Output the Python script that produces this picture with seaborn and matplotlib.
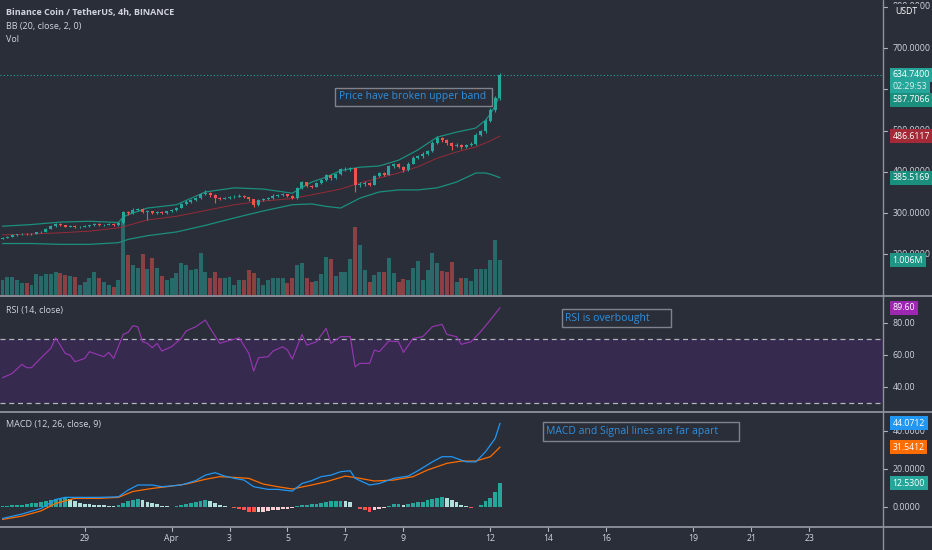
import matplotlib
matplotlib.use("Agg")
import matplotlib.pyplot as plt
import matplotlib.transforms as mtransforms
from matplotlib.lines import Line2D
from matplotlib.patches import Rectangle
import numpy as np
import pandas as pd
import seaborn as sns

# BNB/USDT 4h candles (26 Mar -> 12 Apr 08:00)
opens = [238, 240, 242, 246, 248, 250, 248, 250, 253, 255,
         262, 268, 273, 270, 267, 268, 265, 266, 268, 270,
         273, 270, 271, 273, 270, 276, 302, 299, 308, 309,
         302, 304, 299, 302, 300, 304, 308, 313, 322, 327,
         331, 336, 346, 349, 343, 336, 335, 337, 338, 340,
         342, 338, 333, 319, 331, 334, 336, 342, 344, 345,
         341, 337, 360, 374, 366, 364, 372, 380, 391, 384,
         395, 406, 407, 408, 368, 371, 373, 369, 390, 396,
         393, 414, 418, 412, 404, 420, 434, 437, 444, 450,
         470, 482, 476, 470, 462, 466, 460, 464, 468, 490,
         498, 524, 550, 579]
closes = [240, 242, 246, 248, 250, 248, 250, 253, 255, 262,
          268, 273, 270, 267, 268, 265, 266, 268, 270, 273,
          270, 271, 273, 270, 276, 302, 299, 308, 309, 302,
          304, 299, 302, 300, 304, 308, 313, 322, 327, 331,
          336, 346, 349, 343, 336, 335, 337, 338, 340, 342,
          338, 333, 319, 331, 334, 336, 342, 344, 345, 341,
          337, 360, 374, 366, 364, 372, 380, 391, 384, 395,
          406, 407, 408, 368, 371, 373, 369, 390, 396, 393,
          414, 418, 412, 404, 420, 434, 437, 444, 450, 470,
          482, 476, 470, 462, 466, 460, 464, 468, 490, 498,
          524, 550, 579, 634.74]
highs = [242, 244, 248, 250, 252, 252, 252, 255, 257, 264,
         270, 276, 275, 272, 270, 270, 268, 270, 272, 275,
         275, 273, 275, 275, 278, 306, 305, 311, 313, 311,
         307, 306, 304, 304, 306, 310, 315, 324, 331, 334,
         339, 349, 356, 352, 345, 339, 340, 341, 343, 345,
         344, 340, 335, 333, 337, 339, 345, 347, 348, 347,
         343, 363, 378, 376, 369, 375, 383, 394, 393, 398,
         410, 412, 411, 410, 375, 377, 376, 393, 399, 399,
         417, 422, 421, 415, 423, 437, 441, 447, 453, 474,
         487, 485, 480, 473, 470, 468, 467, 471, 493, 502,
         528, 555, 584, 640]
lows = [236, 239, 241, 245, 247, 246, 247, 249, 251, 254,
        261, 267, 268, 265, 265, 263, 263, 265, 267, 269,
        268, 268, 270, 268, 269, 274, 296, 297, 305, 300,
        283, 297, 297, 298, 298, 302, 306, 311, 320, 325,
        329, 334, 344, 340, 324, 332, 333, 335, 336, 338,
        336, 330, 315, 317, 329, 332, 334, 340, 341, 338,
        334, 335, 358, 363, 361, 362, 370, 378, 381, 382,
        393, 402, 403, 351, 362, 366, 365, 367, 388, 389,
        391, 410, 409, 400, 402, 418, 431, 434, 441, 448,
        467, 472, 466, 452, 459, 456, 457, 462, 466, 486,
        495, 520, 546, 575]
# volume in millions
volumes = [0.43, 0.52, 0.52, 0.43, 0.34, 0.34, 0.29, 0.60, 0.55, 0.60,
           0.60, 0.66, 0.63, 0.57, 0.55, 0.52, 0.29, 0.37, 0.49, 0.66,
           0.49, 0.37, 0.29, 0.23, 0.43, 2.21, 1.15, 0.86, 0.78, 1.18,
           0.75, 1.06, 0.78, 0.55, 0.43, 0.49, 0.63, 0.92, 0.86, 0.72,
           0.75, 1.21, 0.66, 0.49, 0.66, 0.49, 0.49, 0.52, 0.29, 0.43,
           0.43, 0.72, 0.63, 0.49, 0.29, 0.43, 0.49, 0.49, 0.49, 0.34,
           0.49, 0.86, 0.92, 0.49, 0.37, 0.40, 0.60, 1.09, 1.03, 0.55,
           0.66, 0.66, 1.03, 1.95, 1.44, 0.72, 0.37, 0.57, 0.66, 0.66,
           1.06, 0.63, 0.37, 0.46, 0.43, 0.78, 0.98, 0.43, 0.72, 1.21,
           0.92, 0.69, 0.66, 0.95, 0.37, 0.49, 0.49, 0.40, 0.75, 0.75,
           0.75, 1.01, 1.58, 1.006]

# Bollinger bands (20, 2) sampled along the chart
bb_idx = [0, 6, 12, 18, 24, 25, 26, 30, 36, 42, 48, 54, 60, 64, 67, 70, 74, 78,
          82, 86, 90, 94, 98, 100, 101, 102, 103]
bb_upper = [268, 272, 278, 280, 277, 290, 296, 312, 320, 351, 361, 358, 348, 375,
            387, 403, 411, 414, 428, 453, 484, 496, 506, 525, 540, 560, 587.7066]
bb_middle = [247, 249, 252, 256, 264, 266, 270, 283, 292, 306, 320, 329, 335, 344,
             351, 358, 373, 385, 397, 412, 433, 448, 460, 470, 475, 481, 486.6117]
bb_lower = [226, 226, 224, 224, 228, 232, 236, 245, 254, 270, 288, 305, 320, 322,
            316, 312, 336, 351, 356, 356, 361, 375, 397, 397, 394, 390, 385.5169]

# RSI (14)
rsi_idx = [0, 2, 4, 5, 6, 8, 10, 11, 13, 14, 15, 17, 18, 20, 21, 22, 23, 25, 26, 27,
           28, 29, 30, 31, 32, 33, 35, 37, 38, 40, 42, 43, 45, 46, 49, 51, 52, 53, 55, 56,
           58, 59, 60, 62, 63, 65, 67, 68, 70, 72, 73, 74, 76, 77, 78, 80, 82, 83, 85, 87,
           89, 91, 92, 94, 95, 97, 99, 101, 103]
rsi_val = [45.8, 48.5, 54.2, 52.1, 52.1, 58.3, 64.2, 70.8, 61.0, 60.0,
           55.8, 57.9, 62.1, 60.0, 59.0, 61.7, 57.9, 72.9, 74.2, 78.3,
           77.7, 68.3, 67.3, 64.6, 67.3, 62.5, 65.2, 70.4, 75.0, 77.7,
           81.9, 76.7, 67.3, 68.3, 70.8, 61.0, 50.0, 58.3, 59.0, 62.5,
           65.2, 63.1, 57.5, 72.9, 66.2, 68.3, 76.7, 67.3, 71.5, 71.5,
           52.7, 54.8, 54.8, 63.1, 62.1, 68.8, 68.3, 61.7, 70.4, 71.5,
           77.7, 79.2, 72.9, 71.5, 66.7, 68.3, 74.6, 81.9, 89.6]

# MACD (12, 26, 9)
macd_idx = [0, 4, 8, 11, 13, 17, 20, 24, 26, 28, 31, 33, 37, 40, 42, 44, 46, 48, 50, 52,
            55, 57, 60, 62, 64, 66, 68, 70, 72, 73, 76, 78, 81, 84, 86, 89, 91, 93, 96, 98,
            100, 102, 103]
macd_val = [-6.0, -3.7, -0.7, 4.0, 5.1, 5.1, 5.1, 5.4, 8.9, 11.6,
            11.6, 10.7, 11.6, 13.9, 16.8, 18.1, 16.3, 15.1, 14.2, 10.7,
            9.3, 9.3, 8.4, 12.4, 13.9, 16.0, 16.8, 18.6, 19.1, 15.1,
            11.6, 12.4, 15.1, 16.3, 19.1, 23.8, 26.5, 26.5, 23.8, 23.8,
            29.1, 36.1, 44.0712]
sig_idx = [0, 4, 8, 11, 15, 20, 24, 27, 31, 34, 38, 42, 45, 48, 51, 54, 57, 60, 64, 67,
           71, 74, 77, 81, 85, 88, 92, 95, 98, 101, 103]
sig_val = [-6.5, -4.8, -2.0, 1.9, 4.6, 4.6, 5.1, 8.2, 9.8, 10.7,
           12.1, 14.6, 16.0, 15.6, 15.1, 12.1, 10.7, 9.5, 11.6, 13.3,
           16.3, 15.1, 13.7, 14.2, 16.0, 19.5, 23.0, 24.2, 24.2, 26.5, 31.5412]
hist = [0.3, 0.4, 0.9, 1.0, 1.2, 1.6, 1.9, 2.3, 2.5, 3.1,
        3.6, 4.2, 4.6, 4.9, 4.4, 3.3, 2.0, 1.8, 1.4, 1.2,
        1.0, 0.9, 0.6, 0.3, 0.9, 2.0, 3.3, 3.9, 4.2, 3.5,
        2.6, 2.1, 1.4, 0.7, 0.35, 0.2, 0.4, 0.9, 1.4, 1.9,
        2.6, 3.2, 3.5, 3.2, 2.3, 1.2, 0.35, -0.2, -0.5, -1.0,
        -1.7, -2.5, -2.8, -2.8, -2.5, -2.1, -1.8, -1.4, -1.2, -1.0,
        -0.7, 0.5, 0.9, 1.2, 1.4, 1.8, 2.1, 2.5, 3.0, 3.2,
        3.3, 3.2, 2.9, 0.2, -1.0, -1.75, -2.6, -1.8, -1.0, -0.5,
        0.5, 1.4, 1.5, 0.9, 1.4, 2.1, 2.5, 2.8, 3.5, 4.4,
        4.9, 5.3, 4.9, 3.9, 2.6, 1.2, 0.35, -0.35, 0.1, 0.9,
        3.2, 4.9, 7.9, 12.53]

date_labels = ['29', 'Apr', '3', '5', '7', '9', '12', '14', '16', '19', '21', '23']
date_idx = [17, 35, 47, 59, 71, 83, 101, 113, 125, 143, 155, 167]

price_ticks = [200, 300, 400, 500, 600, 700, 800]
rsi_ticks = [40, 60, 80]
macd_ticks = [0, 20, 40]

W, H = 932, 550
BG = '#2a2e39'
TXT = '#d1d4dc'
AXC = '#b2b5be'
GREEN = '#26a69a'
RED = '#ef5350'
BAND = '#1b8f7e'
BASIS = '#a32a36'
NOTE = '#2f8fdc'

sns.set_theme(style='dark', rc={'axes.facecolor': BG, 'figure.facecolor': BG})
plt.rcParams['font.family'] = ['Open Sans', 'DejaVu Sans']

fig = plt.figure(figsize=(W / 100, H / 100), dpi=100)


def pane(top, bottom):
    return [0, 1 - bottom / H, 883 / W, (bottom - top) / H]


ax_vol = fig.add_axes(pane(0, 295))
ax_price = fig.add_axes(pane(0, 295))
ax_price.patch.set_alpha(0)
ax_rsi = fig.add_axes(pane(297, 412))
ax_macd = fig.add_axes(pane(413, 527))

x = np.arange(len(closes))
o = np.array(opens)
c = np.array(closes)
up = c >= o
candle_col = np.where(up, GREEN, RED)

# volume
ax_vol.bar(x, volumes, width=0.82, color=candle_col, alpha=0.5, linewidth=0)
ax_vol.set_ylim(0, 8.48)

# bollinger bands
bb = pd.DataFrame({'idx': bb_idx, 'upper': bb_upper, 'middle': bb_middle, 'lower': bb_lower})
sns.lineplot(data=bb, x='idx', y='upper', ax=ax_price, color=BAND, linewidth=0.9, estimator=None)
sns.lineplot(data=bb, x='idx', y='lower', ax=ax_price, color=BAND, linewidth=0.9, estimator=None)
sns.lineplot(data=bb, x='idx', y='middle', ax=ax_price, color=BASIS, linewidth=0.7,
             estimator=None, alpha=0.9)

# candles
ax_price.vlines(x, lows, highs, colors=candle_col, linewidth=0.8, zorder=3)
ax_price.bar(x, np.abs(c - o), bottom=np.minimum(o, c), width=0.62, color=candle_col,
             linewidth=0, zorder=4)
ax_price.axhline(closes[-1], color=GREEN, linestyle=(0, (1, 2)), linewidth=0.8)
ax_price.set_ylim(101.2, 816.4)

# RSI
ax_rsi.axhspan(30, 70, color='#362a4e', linewidth=0)
for lvl in (70, 30):
    ax_rsi.axhline(lvl, color=AXC, linestyle=(0, (4, 3)), linewidth=0.9)
sns.lineplot(x=rsi_idx, y=rsi_val, ax=ax_rsi, color='#9636b0', linewidth=0.85, estimator=None)
ax_rsi.set_ylim(24.4, 96.3)

# MACD
hist_col = []
for i, h in enumerate(hist):
    prev = hist[i - 1] if i else h
    if h >= 0:
        hist_col.append('#26a69a' if h >= prev else '#b2dfdb')
    else:
        hist_col.append('#ff5252' if h < prev else '#ffcdd2')
ax_macd.bar(x, hist, width=0.78, color=hist_col, linewidth=0)
sns.lineplot(x=sig_idx, y=sig_val, ax=ax_macd, color='#ff6d00', linewidth=0.9, estimator=None)
sns.lineplot(x=macd_idx, y=macd_val, ax=ax_macd, color='#2196f3', linewidth=0.9, estimator=None)
ax_macd.set_ylim(-10.5, 49.5)

for ax in (ax_vol, ax_price, ax_rsi, ax_macd):
    ax.set_xlim(-0.52, 182.3)
    ax.set_xticks([])
    ax.set_yticks([])
    ax.set_xlabel('')
    ax.set_ylabel('')
    ax.grid(False)
    for s in ax.spines.values():
        s.set_visible(False)


def right_ticks(ax, ticks, fmt):
    tr = mtransforms.blended_transform_factory(ax.transAxes, ax.transData)
    for t in ticks:
        ax.plot([1.0, 1.005], [t, t], color=AXC, linewidth=0.8, transform=tr, clip_on=False)
        ax.text(1.011, t, fmt.format(t), transform=tr, ha='left', va='center',
                fontsize=6.3, color=TXT, clip_on=False)


def tag(ax, y, txt, fc, tc='white', trans=None):
    tr = mtransforms.blended_transform_factory(ax.transAxes, (trans or ax.transData))
    ax.text(1.011, y, txt, transform=tr, ha='left', va='center', fontsize=6.3, color=tc,
            clip_on=False, zorder=20,
            bbox=dict(boxstyle='square,pad=0.28', fc=fc, ec='none'))


right_ticks(ax_price, price_ticks, '{:.4f}')
right_ticks(ax_rsi, rsi_ticks, '{:.2f}')
right_ticks(ax_macd, macd_ticks, '{:.4f}')

tag(ax_price, closes[-1], '634.7400', GREEN)
tag(ax_price, 605.5, '02:29:53', GREEN, tc='#d8efec')
tag(ax_price, 574.0, '587.7066', BAND)
tag(ax_price, bb_middle[-1], '486.6117', BASIS)
tag(ax_price, bb_lower[-1], '385.5169', BAND)
tag(ax_price, volumes[-1], '1.006M', '#1f9585', trans=ax_vol.transData)
tag(ax_rsi, rsi_val[-1], '89.60', '#9c27b0')
tag(ax_macd, macd_val[-1], '44.0712', '#2196f3')
tag(ax_macd, sig_val[-1], '31.5412', '#ff6d00')
tag(ax_macd, hist[-1], '12.5300', GREEN)

fig.text(895 / W, 1 - 11 / H, 'USDT', fontsize=6.3, color='white', va='center', ha='left',
         bbox=dict(boxstyle='square,pad=0.3', fc=BG, ec='none'), zorder=30)

# dates
xtr = ax_macd.get_xaxis_transform()
for lab, i in zip(date_labels, date_idx):
    ax_macd.plot([i, i], [0, -0.035], color=AXC, linewidth=0.8, transform=xtr, clip_on=False)
    ax_macd.text(i, -0.105, lab, transform=xtr, ha='center', va='center', fontsize=6.3,
                 color=TXT, clip_on=False)

# pane separators and price scale border
for ypx in (296, 412, 527):
    fig.add_artist(Line2D([0, 1], [1 - ypx / H] * 2, transform=fig.transFigure,
                          color='#8f929b', linewidth=1.3))
fig.add_artist(Line2D([883 / W] * 2, [0, 1], transform=fig.transFigure, color='#8f929b',
                      linewidth=1.0))

# pane captions
fig.text(6 / W, 1 - 12 / H, 'Binance Coin / TetherUS, 4h, BINANCE', fontsize=6.5,
         fontweight='bold', color=TXT, va='center')
fig.text(6 / W, 1 - 26 / H, 'BB (20, close, 2, 0)', fontsize=6.5, color=TXT, va='center')
fig.text(6 / W, 1 - 40 / H, 'Vol', fontsize=6.5, color=TXT, va='center')
fig.text(6 / W, 1 - 310 / H, 'RSI (14, close)', fontsize=6.5, color=TXT, va='center')
fig.text(6 / W, 1 - 425 / H, 'MACD (12, 26, close, 9)', fontsize=6.5, color=TXT, va='center')


# annotation boxes
def note(txt, x0, y0, x1, y1, tx):
    fig.add_artist(Rectangle((x0 / W, 1 - y1 / H), (x1 - x0) / W, (y1 - y0) / H,
                             transform=fig.transFigure, fill=False, edgecolor='#80838c',
                             linewidth=1.0))
    fig.text(tx / W, 1 - (y0 + y1) / 2 / H, txt, fontsize=7.5, color=NOTE, va='center',
             ha='left')


note('Price have broken upper band', 335, 88, 492, 106, 339)
note('RSI is overbought', 562, 309, 671, 327, 565)
note('MACD and Signal lines are far apart', 543, 422, 739, 441, 546)

fig.savefig('out.png', dpi=100, facecolor=BG)
